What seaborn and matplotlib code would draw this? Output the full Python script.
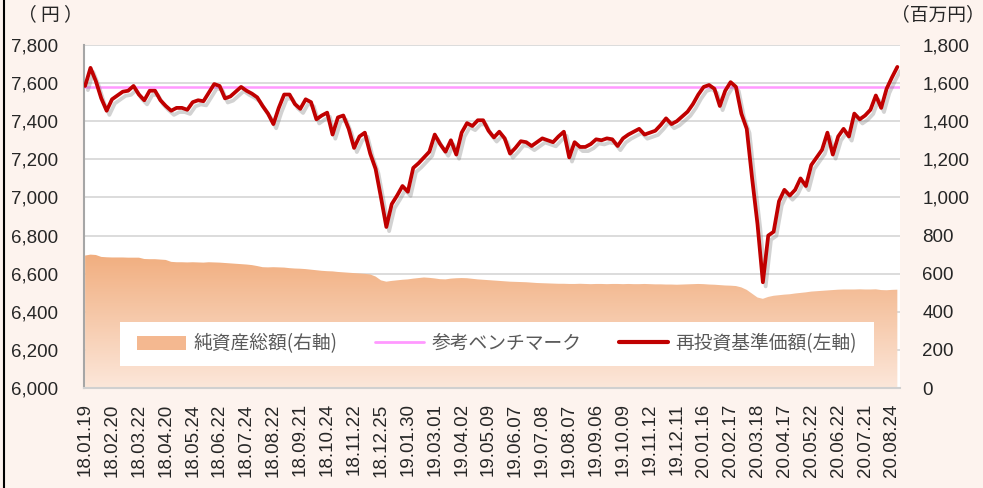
import numpy as np
import pandas as pd
import matplotlib
matplotlib.use('Agg')
import matplotlib.pyplot as plt
import matplotlib.patheffects as pe
from matplotlib.colors import LinearSegmentedColormap
from matplotlib.patches import Patch, Rectangle
from matplotlib.lines import Line2D
import seaborn as sns

# DATA (5 observations per x-axis label interval)
tick_labels = [
    '18.01.19', '18.02.20', '18.03.22', '18.04.20', '18.05.24', '18.06.22',
    '18.07.24', '18.08.22', '18.09.21', '18.10.24', '18.11.22', '18.12.25',
    '19.01.30', '19.03.01', '19.04.02', '19.05.09', '19.06.07', '19.07.08',
    '19.08.07', '19.09.06', '19.10.09', '19.11.12', '19.12.11', '20.01.16',
    '20.02.17', '20.03.18', '20.04.17', '20.05.22', '20.06.22', '20.07.21',
    '20.08.24'
]

# 再投資基準価額 (円, left axis)
nav = [
    7585, 7680, 7610, 7520, 7455, 7515, 7535, 7555, 7560, 7585,
    7540, 7510, 7560, 7560, 7510, 7480, 7455, 7470, 7470, 7460,
    7500, 7510, 7505, 7550, 7595, 7585, 7520, 7530, 7555, 7580,
    7560, 7545, 7525, 7480, 7440, 7385, 7470, 7540, 7540, 7490,
    7465, 7515, 7500, 7410, 7430, 7445, 7330, 7420, 7430, 7360,
    7260, 7320, 7340, 7230, 7150, 7000, 6845, 6965, 7010, 7060,
    7030, 7155, 7180, 7210, 7240, 7330, 7280, 7240, 7300, 7225,
    7340, 7390, 7375, 7405, 7405, 7350, 7315, 7345, 7310, 7230,
    7260, 7295, 7290, 7270, 7290, 7310, 7300, 7290, 7320, 7345,
    7210, 7290, 7265, 7265, 7280, 7305, 7300, 7310, 7305, 7270,
    7310, 7330, 7345, 7360, 7330, 7340, 7350, 7380, 7415, 7385,
    7400, 7425, 7450, 7490, 7540, 7580, 7590, 7570, 7480, 7560,
    7605, 7580, 7440, 7360, 7100, 6860, 6555, 6800, 6820, 6980,
    7040, 7010, 7040, 7100, 7060, 7170, 7210, 7250, 7340, 7225,
    7320, 7360, 7320, 7440, 7410, 7430, 7460, 7535, 7470, 7570,
    7630, 7685
]

# 純資産総額 (百万円, right axis)
assets = [
    695, 700, 698, 688, 686, 685, 685, 685, 684, 684,
    684, 677, 676, 676, 674, 672, 662, 660, 660, 659,
    660, 659, 658, 660, 659, 658, 656, 654, 652, 650,
    648, 645, 640, 634, 633, 634, 633, 632, 629, 627,
    626, 624, 621, 618, 615, 613, 612, 609, 607, 605,
    603, 601, 599, 596, 585, 565, 558, 562, 565, 568,
    570, 574, 577, 580, 578, 575, 571, 570, 574, 576,
    577, 576, 573, 570, 568, 566, 564, 562, 560, 558,
    557, 556, 555, 553, 551, 550, 549, 548, 547, 547,
    546, 546, 547, 546, 545, 546, 546, 545, 546, 546,
    545, 546, 545, 545, 546, 545, 544, 544, 543, 543,
    542, 543, 544, 545, 546, 545, 543, 542, 540, 538,
    537, 535, 528, 515, 495, 475, 468, 478, 484, 487,
    490, 492, 496, 499, 502, 506, 508, 510, 512, 514,
    516, 517, 517, 517, 518, 517, 517, 518, 514, 513,
    515, 516
]

benchmark = 7580
points_per_tick = 5

left_ticks = list(range(6000, 7801, 200))
right_ticks = list(range(0, 1801, 200))

df = pd.DataFrame({
    'pos': np.arange(len(nav)),
    'nav': nav,
    'assets': assets
})

# STYLE
sns.set_theme(style='white')
plt.rcParams['font.family'] = ['Liberation Sans', 'Noto Sans CJK JP']

bg = '#FDF3EE'
text_color = '#262626'

fig = plt.figure(figsize=(9.83, 4.88), dpi=100, facecolor=bg)

ax = fig.add_axes([0.0855, 0.2049, 0.8301, 0.7029])
ax_r = ax.twinx()

# area behind, line in front
ax.set_zorder(ax_r.get_zorder() + 1)
ax.patch.set_visible(False)
ax_r.patch.set_visible(True)
ax_r.patch.set_facecolor('white')

x_min, x_max = -0.2, len(nav) - 0.5

# NET ASSETS AREA (gradient fill)
poly = ax_r.fill_between(df['pos'], 0, df['assets'], color='none', lw=0, zorder=1)
grad_cmap = LinearSegmentedColormap.from_list('peach', ['#FCE7DA', '#F1AE7F'])
grad = np.linspace(0, 1, 256).reshape(-1, 1)
img = ax_r.imshow(grad, extent=[x_min, x_max, 0, max(assets)], origin='lower',
                  aspect='auto', cmap=grad_cmap, zorder=1)
img.set_clip_path(poly.get_paths()[0], transform=ax_r.transData)

ax_r.set_ylim(0, 1800)
ax_r.set_yticks(right_ticks)
ax_r.set_yticklabels([f'{v:,}' for v in right_ticks])
ax_r.yaxis.grid(True, color='#D9D9D9', lw=1.3)
ax_r.set_axisbelow(True)
ax_r.tick_params(axis='y', length=0, pad=16, labelsize=13.5, labelcolor=text_color)
for s in ax_r.spines.values():
    s.set_visible(False)

# BENCHMARK + NAV LINE
ax.axhline(benchmark, color='#FF99FF', lw=1.8, zorder=2)

sns.lineplot(
    data=df, x='pos', y='nav', ax=ax,
    color='#C00000', lw=2.7, zorder=3,
    path_effects=[
        pe.SimpleLineShadow(offset=(2, -3), shadow_color='#7F7F7F', alpha=0.35),
        pe.Normal()
    ]
)

ax.set_ylim(6000, 7800)
ax.set_xlim(x_min, x_max)
ax_r.set_xlim(x_min, x_max)
ax.set_yticks(left_ticks)
ax.set_yticklabels([f'{v:,}' for v in left_ticks])
ax.set_xticks(np.arange(len(tick_labels)) * points_per_tick)
ax.set_xticklabels(tick_labels, rotation=90)
ax.set_xlabel('')
ax.set_ylabel('')
ax.tick_params(axis='y', length=0, pad=19, labelsize=13.5, labelcolor=text_color)
ax.tick_params(axis='x', length=0, pad=11, labelsize=13.5, labelcolor=text_color)

for name, s in ax.spines.items():
    s.set_visible(name in ('left', 'bottom'))
ax.spines['left'].set_color('#A6A6A6')
ax.spines['left'].set_linewidth(1.5)
ax.spines['bottom'].set_color('#D0D0D0')
ax.spines['bottom'].set_linewidth(1.5)

# LEGEND
ax.add_patch(Rectangle((0.044, 0.065), 0.924, 0.128, transform=ax.transAxes,
                       facecolor='white', edgecolor='none', zorder=4))

handles = [
    Patch(facecolor='#F4B890', edgecolor='none'),
    Line2D([], [], color='#FF99FF', lw=2),
    Line2D([], [], color='#C00000', lw=3)
]
labels = ['純資産総額(右軸)', '参考ベンチマーク', '再投資基準価額(左軸)']

leg = ax.legend(
    handles, labels, loc='center', bbox_to_anchor=(0.506, 0.129),
    ncol=3, frameon=False, handlelength=2.6, handleheight=0.8,
    handletextpad=0.4, columnspacing=2.0,
    prop={'family': 'Noto Sans CJK JP', 'size': 13.5}
)
leg.set_zorder(5)
for t in leg.get_texts():
    t.set_color('#595959')

# UNIT LABELS
fig.text(50 / 983, 1 - 15 / 488, '（ 円 ）', ha='center', va='center',
         family='Noto Sans CJK JP', size=13.5, color=text_color)
fig.text(938 / 983, 1 - 15 / 488, '（百万円）', ha='center', va='center',
         family='Noto Sans CJK JP', size=13.5, color=text_color)

# left frame line
fig.add_artist(Line2D([0.004, 0.004], [0, 1], transform=fig.transFigure,
                      color='black', lw=1.5))

fig.savefig('out.png', dpi=100, facecolor=fig.get_facecolor())
